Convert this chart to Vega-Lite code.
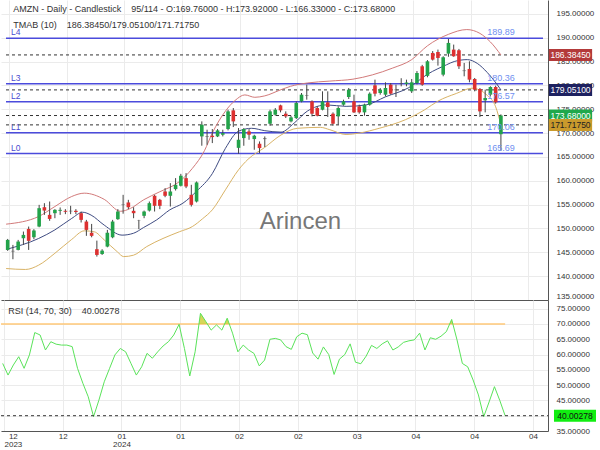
{
  "$schema": "https://vega.github.io/schema/vega-lite/v6.json",
  "padding": 0,
  "spacing": 0,
  "config": {
    "view": {"stroke": null},
    "font": "Liberation Sans",
    "axis": {"labelFont": "Liberation Sans", "labelFontSize": 8, "labelColor": "#333", "gridColor": "#ebebeb", "domainColor": "#555", "ticks": false, "labelOverlap": false}
  },
  "datasets": {
    "levels": [
      {"name": "L4", "v": 189.89}, {"name": "L3", "v": 180.36}, {"name": "L2", "v": 176.57}, {"name": "L1", "v": 170.06}, {"name": "L0", "v": 165.69}
    ],
    "cur": [
      {"name": "upper", "v": 186.3845}, {"name": "mid", "v": 179.051}, {"name": "close", "v": 173.68}, {"name": "lower", "v": 171.7175}
    ],
    "ohlc": [
      {"i":0,"o":145.5,"h":147.8,"l":145.3,"c":147.6},
      {"i":1,"o":145.3,"h":146.55,"l":143.55,"c":145.2},
      {"i":2,"o":145.5,"h":147.6,"l":145.4,"c":147.25},
      {"i":3,"o":147.95,"h":149.35,"l":146.55,"c":148.65},
      {"i":4,"o":149.9,"h":150.4,"l":145.5,"c":147.4},
      {"i":5,"o":148.15,"h":149.85,"l":147.75,"c":149.55},
      {"i":6,"o":150.4,"h":154.95,"l":150.25,"c":154.25},
      {"i":7,"o":154.45,"h":155.3,"l":152.85,"c":153.75},
      {"i":8,"o":152.85,"h":155.65,"l":151.6,"c":152.0},
      {"i":9,"o":153.2,"h":154.05,"l":152.15,"c":153.9},
      {"i":10,"o":153.7,"h":154.4,"l":152.85,"c":153.9},
      {"i":11,"o":153.7,"h":154.05,"l":153.0,"c":153.5},
      {"i":12,"o":153.6,"h":154.75,"l":153.0,"c":153.7},
      {"i":13,"o":153.7,"h":154.05,"l":153.0,"c":153.45},
      {"i":14,"o":153.2,"h":153.55,"l":151.25,"c":151.8},
      {"i":15,"o":151.45,"h":151.8,"l":148.45,"c":149.7},
      {"i":16,"o":149.1,"h":150.95,"l":148.15,"c":148.45},
      {"i":17,"o":145.65,"h":147.45,"l":144.1,"c":144.45},
      {"i":18,"o":144.65,"h":145.65,"l":144.45,"c":145.35},
      {"i":19,"o":146.2,"h":149.7,"l":146.05,"c":149.1},
      {"i":20,"o":148.15,"h":151.8,"l":147.95,"c":151.45},
      {"i":21,"o":151.95,"h":154.05,"l":151.8,"c":153.55},
      {"i":22,"o":154.9,"h":157.05,"l":153.1,"c":155.0},
      {"i":23,"o":155.45,"h":156.0,"l":154.05,"c":154.45},
      {"i":24,"o":153.7,"h":154.45,"l":152.15,"c":153.2},
      {"i":25,"o":151.6,"h":151.8,"l":149.85,"c":151.65},
      {"i":26,"o":152.65,"h":153.75,"l":152.15,"c":153.55},
      {"i":27,"o":153.75,"h":155.65,"l":153.55,"c":155.3},
      {"i":28,"o":156.85,"h":157.05,"l":153.55,"c":154.75},
      {"i":29,"o":156.0,"h":156.2,"l":154.05,"c":154.75},
      {"i":30,"o":157.75,"h":158.45,"l":156.55,"c":156.85},
      {"i":31,"o":156.85,"h":159.5,"l":154.6,"c":157.75},
      {"i":32,"o":158.25,"h":160.55,"l":157.95,"c":159.15},
      {"i":33,"o":158.95,"h":161.45,"l":158.8,"c":161.05},
      {"i":34,"o":160.55,"h":161.6,"l":158.45,"c":158.8},
      {"i":35,"o":157.05,"h":159.15,"l":154.6,"c":154.95},
      {"i":36,"o":155.65,"h":159.85,"l":155.45,"c":159.65},
      {"i":37,"o":169.3,"h":172.45,"l":167.35,"c":171.75},
      {"i":38,"o":169.35,"h":170.7,"l":167.55,"c":169.25},
      {"i":39,"o":169.44,"h":170.84,"l":167.9,"c":169.16},
      {"i":40,"o":169.3,"h":170.84,"l":169.16,"c":170.56},
      {"i":41,"o":169.65,"h":170.7,"l":169.3,"c":170.0},
      {"i":42,"o":170.84,"h":174.9,"l":170.56,"c":174.55},
      {"i":43,"o":174.76,"h":175.25,"l":171.26,"c":172.45},
      {"i":44,"o":166.9,"h":171.05,"l":165.66,"c":168.6},
      {"i":45,"o":168.95,"h":171.05,"l":167.34,"c":170.84},
      {"i":46,"o":170.35,"h":170.84,"l":168.6,"c":169.65},
      {"i":47,"o":168.74,"h":169.65,"l":166.5,"c":169.44},
      {"i":48,"o":167.76,"h":168.25,"l":165.8,"c":166.85},
      {"i":49,"o":168.88,"h":169.3,"l":167.06,"c":168.74},
      {"i":50,"o":171.96,"h":174.9,"l":171.54,"c":174.55},
      {"i":51,"o":173.85,"h":175.25,"l":173.64,"c":174.9},
      {"i":52,"o":175.81,"h":175.95,"l":174.34,"c":174.76},
      {"i":53,"o":174.06,"h":174.55,"l":173.15,"c":173.5},
      {"i":54,"o":172.45,"h":173.64,"l":172.24,"c":173.29},
      {"i":55,"o":173.15,"h":176.65,"l":172.94,"c":176.3},
      {"i":56,"o":176.65,"h":178.4,"l":176.44,"c":178.05},
      {"i":57,"o":177.8,"h":180.15,"l":177.0,"c":177.9},
      {"i":58,"o":176.65,"h":176.86,"l":173.5,"c":174.06},
      {"i":59,"o":175.25,"h":175.6,"l":173.5,"c":173.64},
      {"i":60,"o":174.9,"h":178.75,"l":174.76,"c":176.65},
      {"i":61,"o":176.44,"h":178.75,"l":173.36,"c":175.46},
      {"i":62,"o":174.06,"h":174.34,"l":171.54,"c":171.96},
      {"i":63,"o":173.5,"h":175.6,"l":171.75,"c":175.25},
      {"i":64,"o":175.95,"h":177.0,"l":175.74,"c":176.65},
      {"i":65,"o":177.56,"h":179.45,"l":177.14,"c":179.1},
      {"i":66,"o":176.65,"h":178.05,"l":174.2,"c":174.34},
      {"i":67,"o":175.6,"h":175.95,"l":174.06,"c":174.34},
      {"i":68,"o":174.34,"h":176.16,"l":173.64,"c":175.95},
      {"i":69,"o":175.95,"h":178.54,"l":175.74,"c":178.26},
      {"i":70,"o":180.01,"h":181.2,"l":177.7,"c":178.26},
      {"i":71,"o":178.4,"h":179.45,"l":178.05,"c":179.1},
      {"i":72,"o":178.05,"h":180.64,"l":177.7,"c":179.45},
      {"i":73,"o":180.15,"h":180.5,"l":178.05,"c":178.26},
      {"i":74,"o":179.0,"h":180.15,"l":177.56,"c":179.1},
      {"i":75,"o":180.4,"h":181.5,"l":179.8,"c":180.5},
      {"i":76,"o":180.3,"h":181.2,"l":179.8,"c":180.6},
      {"i":77,"o":178.75,"h":181.34,"l":178.4,"c":180.64},
      {"i":78,"o":180.5,"h":183.0,"l":180.2,"c":182.6},
      {"i":79,"o":184.0,"h":184.3,"l":179.9,"c":180.15},
      {"i":80,"o":182.0,"h":185.3,"l":181.7,"c":185.05},
      {"i":81,"o":186.8,"h":187.2,"l":185.2,"c":185.4},
      {"i":82,"o":187.0,"h":187.5,"l":184.14,"c":185.75},
      {"i":83,"o":182.25,"h":186.1,"l":181.9,"c":185.89},
      {"i":84,"o":186.66,"h":189.74,"l":186.0,"c":188.9},
      {"i":85,"o":187.5,"h":188.55,"l":186.0,"c":186.1},
      {"i":86,"o":187.36,"h":187.64,"l":183.44,"c":184.0},
      {"i":87,"o":183.0,"h":184.7,"l":181.9,"c":183.1},
      {"i":88,"o":183.44,"h":185.05,"l":180.64,"c":181.2},
      {"i":89,"o":181.34,"h":181.55,"l":178.75,"c":179.1},
      {"i":90,"o":179.24,"h":179.45,"l":173.36,"c":174.55},
      {"i":91,"o":176.86,"h":179.1,"l":174.34,"c":177.35},
      {"i":92,"o":178.05,"h":179.8,"l":177.7,"c":179.66},
      {"i":93,"o":179.66,"h":179.94,"l":176.16,"c":176.44},
      {"i":94,"o":169.76,"h":173.92,"l":166.33,"c":173.68}
    ],
    "bands": [
      {"band":"upper","i":-0.3,"v":150.9},{"band":"upper","i":5.9,"v":152.5},{"band":"upper","i":9,"v":154.6},{"band":"upper","i":12.2,"v":156.7},{"band":"upper","i":14.6,"v":157.4},{"band":"upper","i":18.4,"v":156.1},{"band":"upper","i":21.5,"v":153.6},{"band":"upper","i":23.4,"v":154.2},{"band":"upper","i":25.9,"v":156.0},{"band":"upper","i":29,"v":157.7},{"band":"upper","i":32.7,"v":159.8},{"band":"upper","i":35.2,"v":162.6},{"band":"upper","i":37.5,"v":166.3},{"band":"upper","i":39,"v":170.0},{"band":"upper","i":41.5,"v":174.6},{"band":"upper","i":43.3,"v":176.8},{"band":"upper","i":45.2,"v":178.0},{"band":"upper","i":47.1,"v":177.5},{"band":"upper","i":49,"v":177.8},{"band":"upper","i":52.1,"v":179.1},{"band":"upper","i":53.9,"v":179.8},{"band":"upper","i":57.1,"v":180.5},{"band":"upper","i":61.4,"v":180.9},{"band":"upper","i":65.8,"v":181.3},{"band":"upper","i":69.5,"v":182.2},{"band":"upper","i":73.3,"v":183.6},{"band":"upper","i":77,"v":185.4},{"band":"upper","i":80,"v":188.3},{"band":"upper","i":84,"v":190.7},{"band":"upper","i":87.5,"v":191.7},{"band":"upper","i":90,"v":190.9},{"band":"upper","i":92,"v":189.1},{"band":"upper","i":94,"v":186.38},
      {"band":"mid","i":-0.3,"v":145.6},{"band":"mid","i":5.9,"v":147.9},{"band":"mid","i":9,"v":149.7},{"band":"mid","i":12.2,"v":152.1},{"band":"mid","i":14.3,"v":153.4},{"band":"mid","i":15.9,"v":152.8},{"band":"mid","i":18.4,"v":150.7},{"band":"mid","i":21.8,"v":148.6},{"band":"mid","i":24,"v":149.0},{"band":"mid","i":25.9,"v":150.2},{"band":"mid","i":28.4,"v":151.8},{"band":"mid","i":30.9,"v":153.9},{"band":"mid","i":33.4,"v":155.3},{"band":"mid","i":36,"v":157.8},{"band":"mid","i":39,"v":161.5},{"band":"mid","i":41.5,"v":166.8},{"band":"mid","i":44,"v":170.4},{"band":"mid","i":46.5,"v":171.0},{"band":"mid","i":49,"v":170.5},{"band":"mid","i":52.1,"v":170.2},{"band":"mid","i":54.6,"v":172.1},{"band":"mid","i":57.1,"v":174.6},{"band":"mid","i":60.8,"v":175.9},{"band":"mid","i":64.5,"v":175.6},{"band":"mid","i":68.3,"v":175.9},{"band":"mid","i":72,"v":177.6},{"band":"mid","i":76.4,"v":179.5},{"band":"mid","i":80.1,"v":182.4},{"band":"mid","i":83.6,"v":184.3},{"band":"mid","i":85.1,"v":185.0},{"band":"mid","i":87.6,"v":185.4},{"band":"mid","i":89.5,"v":184.6},{"band":"mid","i":91.4,"v":182.7},{"band":"mid","i":93.2,"v":180.3},{"band":"mid","i":94,"v":179.05},
      {"band":"lower","i":-0.3,"v":141.6},{"band":"lower","i":3.4,"v":141.4},{"band":"lower","i":5.9,"v":142.3},{"band":"lower","i":9,"v":144.8},{"band":"lower","i":12.2,"v":147.7},{"band":"lower","i":14.6,"v":149.5},{"band":"lower","i":16.5,"v":149.3},{"band":"lower","i":18.4,"v":147.6},{"band":"lower","i":20.9,"v":145.1},{"band":"lower","i":22.1,"v":144.1},{"band":"lower","i":24,"v":144.4},{"band":"lower","i":26.5,"v":146.2},{"band":"lower","i":29.6,"v":147.9},{"band":"lower","i":32.7,"v":149.3},{"band":"lower","i":35.2,"v":150.4},{"band":"lower","i":37.1,"v":152.0},{"band":"lower","i":39,"v":153.9},{"band":"lower","i":41.5,"v":158.1},{"band":"lower","i":44,"v":162.3},{"band":"lower","i":45.8,"v":164.5},{"band":"lower","i":49,"v":167.0},{"band":"lower","i":52.1,"v":169.6},{"band":"lower","i":55.2,"v":171.0},{"band":"lower","i":59.6,"v":171.2},{"band":"lower","i":61.4,"v":170.7},{"band":"lower","i":64.5,"v":169.7},{"band":"lower","i":67,"v":170.0},{"band":"lower","i":70.8,"v":171.0},{"band":"lower","i":75.8,"v":172.8},{"band":"lower","i":79.5,"v":174.9},{"band":"lower","i":82,"v":176.7},{"band":"lower","i":85.5,"v":178.3},{"band":"lower","i":88.5,"v":179.4},{"band":"lower","i":91.4,"v":177.9},{"band":"lower","i":93,"v":175.5},{"band":"lower","i":94,"v":171.72}
    ],
    "rsi": [
      {"i":0,"r":57.1},{"i":1,"r":53.3},{"i":2,"r":56.6},{"i":3,"r":59.3},{"i":4,"r":55.5},{"i":5,"r":59.9},{"i":6,"r":67.2},{"i":7,"r":66.4},{"i":8,"r":61.5},{"i":9,"r":64.2},
      {"i":10,"r":63.4},{"i":11,"r":63.1},{"i":12,"r":63.1},{"i":13,"r":62.6},{"i":14,"r":55.5},{"i":15,"r":50.6},{"i":16,"r":46.2},{"i":17,"r":39.7},{"i":18,"r":45.1},{"i":19,"r":51.1},
      {"i":20,"r":55.5},{"i":21,"r":59.9},{"i":22,"r":62.0},{"i":23,"r":60.9},{"i":24,"r":57.1},{"i":25,"r":53.3},{"i":26,"r":56.0},{"i":27,"r":60.4},{"i":28,"r":58.8},{"i":29,"r":60.9},
      {"i":30,"r":62.8},{"i":31,"r":64.2},{"i":32,"r":66.4},{"i":33,"r":69.9},{"i":34,"r":62.0},{"i":35,"r":53.0},{"i":36,"r":60.9},{"i":37,"r":73.5},{"i":38,"r":70.8},{"i":39,"r":68.0},
      {"i":40,"r":69.7},{"i":41,"r":68.0},{"i":42,"r":71.9},{"i":43,"r":67.0},{"i":44,"r":60.9},{"i":45,"r":63.1},{"i":46,"r":61.5},{"i":47,"r":60.4},{"i":48,"r":56.3},{"i":49,"r":58.2},
      {"i":50,"r":65.0},{"i":51,"r":65.3},{"i":52,"r":64.8},{"i":53,"r":62.6},{"i":54,"r":61.7},{"i":55,"r":65.8},{"i":56,"r":67.0},{"i":57,"r":66.5},{"i":58,"r":60.5},{"i":59,"r":58.5},
      {"i":60,"r":62.5},{"i":61,"r":60.0},{"i":62,"r":53.5},{"i":63,"r":58.5},{"i":64,"r":60.0},{"i":65,"r":63.5},{"i":66,"r":57.5},{"i":67,"r":57.0},{"i":68,"r":59.5},{"i":69,"r":63.0},
      {"i":70,"r":62.0},{"i":71,"r":63.5},{"i":72,"r":64.5},{"i":73,"r":61.5},{"i":74,"r":62.5},{"i":75,"r":64.0},{"i":76,"r":64.5},{"i":77,"r":64.8},{"i":78,"r":67.0},{"i":79,"r":61.5},
      {"i":80,"r":65.5},{"i":81,"r":65.0},{"i":82,"r":66.0},{"i":83,"r":67.5},{"i":84,"r":71.5},{"i":85,"r":64.8},{"i":86,"r":57.1},{"i":87,"r":56.0},{"i":88,"r":51.7},{"i":89,"r":46.8},
      {"i":90,"r":39.7},{"i":91,"r":44.5},{"i":92,"r":49.5},{"i":93,"r":45.0},{"i":94,"r":40.0}
    ],
    "ob": [
      {"g":"a","i":36.72,"r":70},{"g":"a","i":37,"r":73.5},{"g":"a","i":38,"r":70.8},{"g":"a","i":38.29,"r":70},
      {"g":"b","i":41.51,"r":70},{"g":"b","i":42,"r":71.9},{"g":"b","i":42.39,"r":70},
      {"g":"c","i":83.63,"r":70},{"g":"c","i":84,"r":71.5},{"g":"c","i":84.22,"r":70}
    ]
  },
  "vconcat": [
    {
      "width": 547,
      "height": 300,
      "layer": [
        {
          "data": {"name": "levels"},
          "mark": {"type": "rule", "color": "#4b4bdc", "strokeWidth": 1.5},
          "encoding": {
            "x": {"datum": -0.318, "type": "quantitative", "scale": {"domain": [-0.318, 102.02], "nice": false, "zero": false},
                  "axis": {"values": [0.22, 11.22, 22.22, 33.22, 44.22, 55.22, 66.22, 77.22, 88.22, 99.22], "tickCount": 50, "labels": false, "ticks": false, "grid": true, "domain": true, "title": null}},
            "x2": {"datum": 102.02},
            "y": {"field": "v", "type": "quantitative", "title": null, "scale": {"domain": [135, 197.9], "nice": false, "zero": false},
                  "axis": {"orient": "right", "values": [135, 140, 145, 150, 155, 160, 165, 170, 175, 180, 185, 190, 195], "tickCount": 50, "format": ".5f", "grid": true, "ticks": false, "labelPadding": 8, "labelFlush": true, "labelOverlap": false, "title": null}}
          }
        },
        {
          "data": {"name": "cur"},
          "mark": {"type": "rule", "color": "#333", "strokeWidth": 1, "strokeDash": [3, 3]},
          "encoding": {
            "x": {"datum": -0.318, "type": "quantitative"},
            "x2": {"datum": 102.02},
            "y": {"field": "v", "type": "quantitative", "title": null}
          }
        },
        {
          "data": {"name": "bands"},
          "mark": {"type": "line", "strokeWidth": 1, "interpolate": "monotone"},
          "encoding": {
            "x": {"field": "i", "type": "quantitative", "title": null},
            "y": {"field": "v", "type": "quantitative", "title": null},
            "color": {"field": "band", "type": "nominal", "legend": null, "scale": {"domain": ["upper", "mid", "lower"], "range": ["#d27a7a", "#3f4c82", "#d9b366"]}}
          }
        },
        {
          "data": {"name": "ohlc"},
          "mark": {"type": "rule", "color": "#444", "strokeWidth": 1},
          "encoding": {
            "x": {"field": "i", "type": "quantitative", "title": null},
            "y": {"field": "l", "type": "quantitative", "title": null},
            "y2": {"field": "h"}
          }
        },
        {
          "data": {"name": "ohlc"},
          "mark": {"type": "bar", "width": 3.6},
          "encoding": {
            "x": {"field": "i", "type": "quantitative", "title": null},
            "y": {"field": "o", "type": "quantitative", "title": null},
            "y2": {"field": "c"},
            "color": {"condition": [{"test": "abs(datum.c - datum.o) < 0.15", "value": "#555555"}, {"test": "datum.c > datum.o", "value": "#22a34a"}], "value": "#dd3030"}
          }
        },
        {
          "data": {"name": "levels"},
          "mark": {"type": "text", "align": "left", "baseline": "bottom", "dy": -1, "fontSize": 8.5, "color": "#4a4ad0"},
          "encoding": {
            "x": {"datum": 0.62, "type": "quantitative"},
            "y": {"field": "v", "type": "quantitative", "title": null},
            "text": {"field": "name"}
          }
        },
        {
          "data": {"name": "levels"},
          "mark": {"type": "text", "align": "center", "baseline": "bottom", "dy": -1, "fontSize": 9, "color": "#6f8ff0"},
          "encoding": {
            "x": {"datum": 94, "type": "quantitative"},
            "y": {"field": "v", "type": "quantitative", "title": null},
            "text": {"field": "v", "format": ".2f"}
          }
        },
        {
          "data": {"values": [{}]},
          "mark": {"type": "text", "align": "left", "baseline": "middle", "fontSize": 9, "color": "#333", "text": "AMZN - Daily - Candlestick\u00a0\u00a0\u00a0 95/114 - O:169.76000 - H:173.92000 - L:166.33000 - C:173.68000"},
          "encoding": {
            "x": {"datum": 1.05, "type": "quantitative"},
            "y": {"datum": 196.0, "type": "quantitative"}
          }
        },
        {
          "data": {"values": [{}]},
          "mark": {"type": "text", "align": "left", "baseline": "middle", "fontSize": 9, "color": "#333", "text": "TMAB (10)\u00a0\u00a0\u00a0 186.38450/179.05100/171.71750"},
          "encoding": {
            "x": {"datum": 1.05, "type": "quantitative"},
            "y": {"datum": 192.66, "type": "quantitative"}
          }
        },
        {
          "data": {"values": [{}]},
          "mark": {"type": "text", "align": "center", "baseline": "middle", "fontSize": 24, "color": "#777", "text": "Arincen"},
          "encoding": {
            "x": {"datum": 55.8, "type": "quantitative"},
            "y": {"datum": 151.35, "type": "quantitative"}
          }
        },
        {
          "data": {"name": "cur"},
          "mark": {"type": "rule", "strokeWidth": 12, "strokeCap": "butt"},
          "encoding": {
            "x": {"datum": 103.14, "type": "quantitative"},
            "x2": {"datum": 111.38},
            "y": {"field": "v", "type": "quantitative", "title": null},
            "stroke": {"field": "name", "type": "nominal", "legend": null, "scale": {"domain": ["upper", "mid", "close", "lower"], "range": ["#b33a3a", "#1d2160", "#1fa84c", "#c99a2c"]}}
          }
        },
        {
          "data": {"name": "cur"},
          "mark": {"type": "text", "align": "center", "baseline": "middle", "fontSize": 8.5},
          "encoding": {
            "x": {"datum": 107.26, "type": "quantitative"},
            "y": {"field": "v", "type": "quantitative", "title": null},
            "text": {"field": "v", "format": ".5f"},
            "fill": {"field": "name", "type": "nominal", "legend": null, "scale": {"domain": ["upper", "mid", "close", "lower"], "range": ["#ffffff", "#ffffff", "#ffffff", "#222222"]}}
          }
        }
      ]
    },
    {
      "width": 547,
      "height": 131,
      "layer": [
        {
          "data": {"values": [{}]},
          "mark": {"type": "rule", "color": "#ffc878", "strokeWidth": 1.5},
          "encoding": {
            "x": {"datum": -0.318, "type": "quantitative", "scale": {"domain": [-0.318, 102.02], "nice": false, "zero": false},
                  "axis": {"values": [0.22, 11.22, 22.22, 33.22, 44.22, 55.22, 66.22, 77.22, 88.22, 99.22], "tickCount": 50, "labelExpr": "[['12','2023'],'12',['01','2024'],'01','02','02','03','04','04','04'][round((datum.value-0.22)/11)]", "labelOffset": {"condition": {"test": "datum.value < 1", "value": 9}, "value": 0}, "labelPadding": 1, "labelLineHeight": 8, "ticks": false, "grid": true, "domain": true, "title": null}},
            "x2": {"datum": 94},
            "y": {"datum": 70, "type": "quantitative", "scale": {"domain": [35, 77.85], "nice": false, "zero": false},
                  "axis": {"orient": "right", "values": [35, 40, 45, 50, 55, 60, 65, 70, 75], "tickCount": 50, "format": ".5f", "grid": true, "ticks": false, "labelPadding": 8, "labelOverlap": false, "title": null}}
          }
        },
        {
          "data": {"name": "ob"},
          "mark": {"type": "area", "color": "#cfcf3c", "opacity": 0.85},
          "encoding": {
            "x": {"field": "i", "type": "quantitative", "title": null},
            "y": {"field": "r", "type": "quantitative", "title": null},
            "y2": {"datum": 70},
            "detail": {"field": "g"}
          }
        },
        {
          "data": {"name": "rsi"},
          "mark": {"type": "line", "color": "#5ae35a", "strokeWidth": 1},
          "encoding": {
            "x": {"field": "i", "type": "quantitative", "title": null},
            "y": {"field": "r", "type": "quantitative", "title": null}
          }
        },
        {
          "data": {"values": [{}]},
          "mark": {"type": "rule", "color": "#333", "strokeWidth": 1, "strokeDash": [3, 3]},
          "encoding": {
            "x": {"datum": -0.318, "type": "quantitative"},
            "x2": {"datum": 102.02},
            "y": {"datum": 40.00278, "type": "quantitative"}
          }
        },
        {
          "data": {"values": [{}]},
          "mark": {"type": "rule", "color": "#11ee11", "strokeWidth": 12, "strokeCap": "butt"},
          "encoding": {
            "x": {"datum": 103.14, "type": "quantitative"},
            "x2": {"datum": 111.0},
            "y": {"datum": 40.00278, "type": "quantitative"}
          }
        },
        {
          "data": {"values": [{}]},
          "mark": {"type": "text", "align": "center", "baseline": "middle", "fontSize": 8.5, "color": "#111", "text": "40.00278"},
          "encoding": {
            "x": {"datum": 107.07, "type": "quantitative"},
            "y": {"datum": 40.00278, "type": "quantitative"}
          }
        },
        {
          "data": {"values": [{}]},
          "mark": {"type": "text", "align": "left", "baseline": "middle", "fontSize": 9, "color": "#333", "text": "RSI (14, 70, 30)\u00a0\u00a0\u00a0 40.00278"},
          "encoding": {
            "x": {"datum": 1.05, "type": "quantitative"},
            "y": {"datum": 74.25, "type": "quantitative"}
          }
        }
      ]
    }
  ]
}
